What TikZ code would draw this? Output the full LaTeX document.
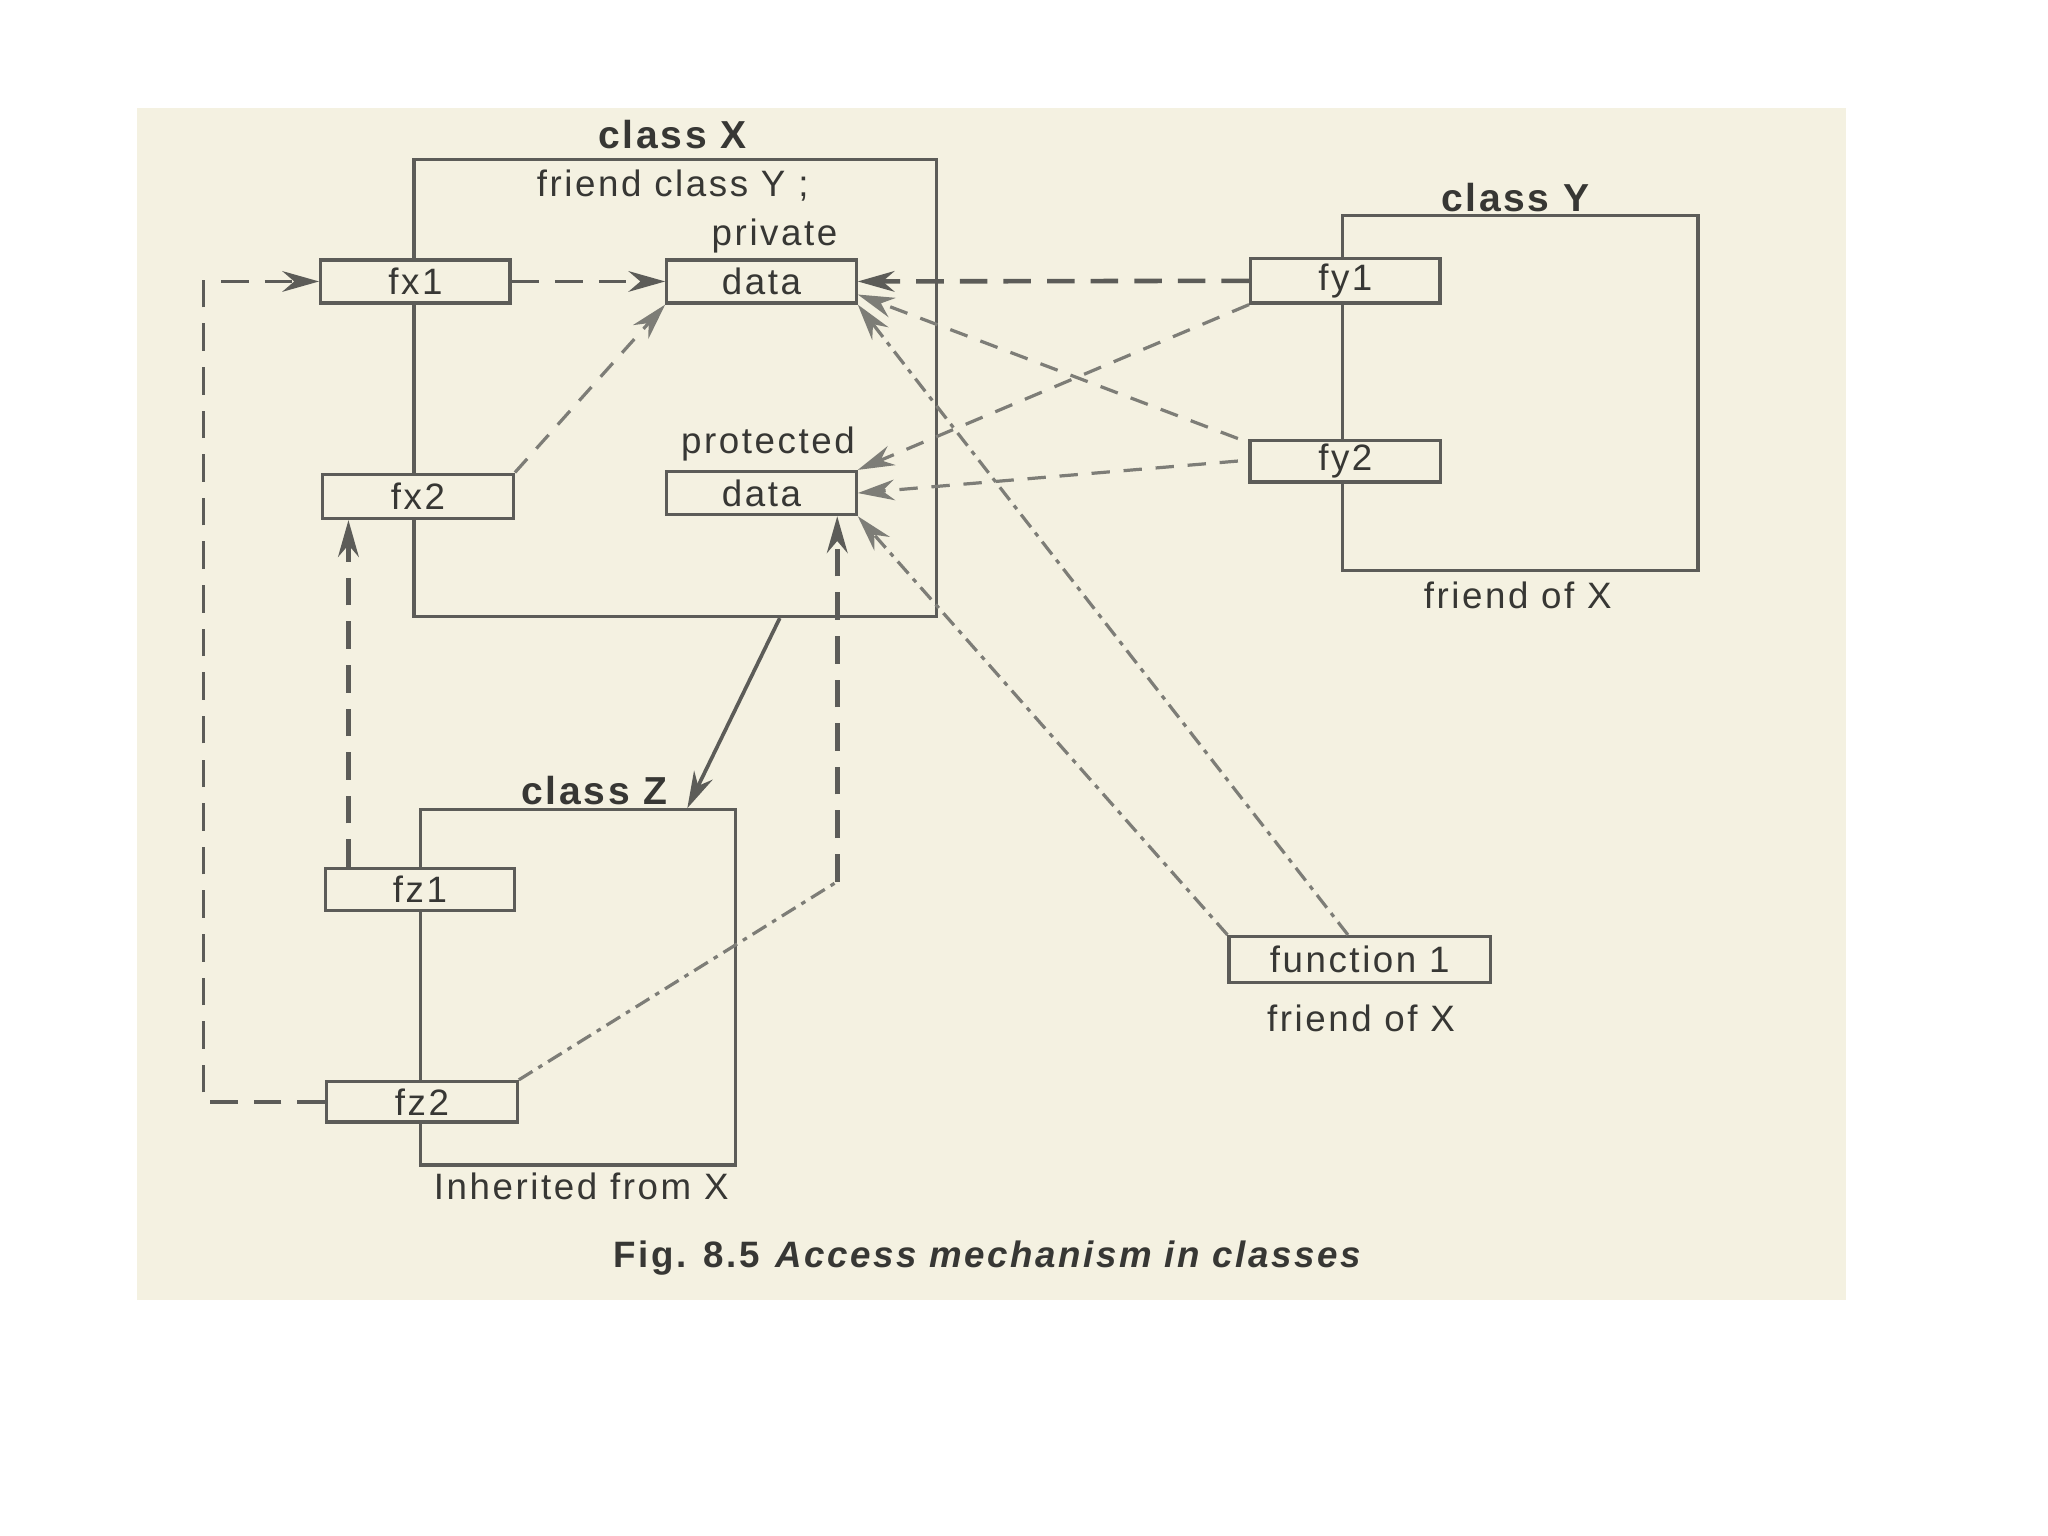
\documentclass[tikz,border=0pt]{standalone}
\usepackage{fontspec}
\setmainfont{Liberation Sans}[LetterSpace=7]
\usepackage{xcolor}
\usepackage{tikz}
\usetikzlibrary{calc,arrows.meta,positioning}
\definecolor{scanPaper}{RGB}{244,241,225}
\definecolor{scanInk}{RGB}{92,92,88}
\definecolor{scanGray}{RGB}{125,125,119}
\definecolor{scanText}{RGB}{55,55,52}

\begin{document}
\begin{tikzpicture}[x=1cm,y=-1cm,
    frame/.style={draw=scanInk, line width=0.7pt, inner sep=0pt},
    fbox/.style={draw=scanInk, line width=0.7pt, fill=scanPaper, inner sep=0pt,
        minimum width=1.45cm, minimum height=0.33cm, text=scanText,
        font=\fontsize{8}{9}\selectfont},
    lbl/.style={text=scanText, font=\fontsize{8}{9}\selectfont},
    ttl/.style={text=scanText, font=\fontsize{8.5}{9}\selectfont\bfseries},
    tip/.style={-{Stealth[length=8pt,width=4.5pt]}},
    longdash/.style={draw=scanInk, line width=0.8pt, dash pattern=on 6pt off 3.5pt, tip},
    shortdash/.style={draw=scanGray, line width=0.7pt, dash pattern=on 4pt off 3pt, tip},
    dotdash/.style={draw=scanGray, line width=0.7pt, dash pattern=on 3.5pt off 1.5pt on 1pt off 1.5pt, tip}]

    % page and scanned paper
    \fill[white] (0,0) rectangle (15.68,11.76);
    \fill[scanPaper] (1.05,0.83) rectangle (14.13,9.95);

    % class frames
    \node[frame, minimum width=4.00cm, minimum height=3.50cm] (clsX) at (5.17,2.97) {};
    \node[frame, minimum width=2.72cm, minimum height=2.72cm] (clsY) at (11.64,3.01) {};
    \node[frame, minimum width=2.41cm, minimum height=2.72cm] (clsZ) at (4.425,7.56) {};

    % labels
    \node[ttl] (ttlX) at (5.15,1.03) {class X};
    \node[lbl] (frdY) at (5.15,1.42) {friend class Y ;};
    \node[lbl] (pvt) at (5.93,1.81) {private};
    \node[lbl] (prt) at (5.88,3.40) {protected};
    \node[ttl] (ttlY) at (11.60,1.51) {class Y};
    \node[lbl] (frdXa) at (11.62,4.56) {friend of X};
    \node[ttl] (ttlZ) at (4.55,6.05) {class Z};
    \node[lbl] (inh) at (4.45,9.08) {Inherited from X};
    \node[lbl] (frdXb) at (10.42,7.80) {friend of X};
    \node[lbl, font=\fontsize{8}{10}\selectfont] (cap) at (7.57,9.63)
        {\textbf{Fig. 8.5} \textbf{\itshape Access mechanism in classes}};

    % members
    \node[fbox] (fx1) at (3.18,2.155) {fx1};
    \node[fbox, minimum width=1.46cm, minimum height=0.34cm] (fx2) at (3.20,3.80) {fx2};
    \node[fbox] (pdata) at (5.83,2.155) {data};
    \node[fbox] (prdata) at (5.83,3.775) {data};
    \node[fbox, minimum height=0.34cm] (fy1) at (10.30,2.15) {fy1};
    \node[fbox, minimum width=1.46cm, minimum height=0.32cm] (fy2) at (10.30,3.53) {fy2};
    \node[fbox, minimum height=0.32cm] (fz1) at (3.215,6.81) {fz1};
    \node[fbox, minimum width=1.46cm, minimum height=0.31cm] (fz2) at (3.23,8.435) {fz2};
    \node[fbox, minimum width=2.00cm, minimum height=0.35cm] (fn1) at (10.41,7.345) {function 1};

    % access from X and Z
    \draw[longdash] (fz2.west) -- ++(-0.93,0) |- (fx1.west);
    \draw[longdash] (fx1.east) -- (pdata.west);
    \draw[shortdash] (fx2.north east) -- (pdata.south west);
    \coordinate (zup) at ([xshift=0.19cm]fz1.north west);
    \draw[longdash, line width=1.1pt] (zup) -- (zup |- fx2.south);
    \coordinate (zbend) at (6.41,6.75);
    \draw[dotdash, -] (fz2.north east) -- (zbend);
    \draw[longdash, line width=1.1pt] (zbend) -- (zbend |- prdata.south);

    % access from Y
    \draw[longdash, line width=1pt] (fy1.west) -- (pdata.east);
    \draw[shortdash] (fy1.south west) -- (prdata.north east);
    \draw[shortdash] ([xshift=-0.08cm]fy2.north west) -- ([yshift=-0.1cm]pdata.east);
    \draw[shortdash] ([xshift=-0.08cm]fy2.west) -- (prdata.east);

    % friend function
    \draw[dotdash] (fn1.north west) -- (prdata.south east);
    \draw[dotdash] ([xshift=-0.09cm]fn1.north) -- (pdata.south east);

    % inheritance
    \draw[draw=scanInk, line width=0.8pt, tip] ([xshift=0.8cm]clsX.south) -- ([xshift=-0.38cm]clsZ.north east);
\end{tikzpicture}
\end{document}
